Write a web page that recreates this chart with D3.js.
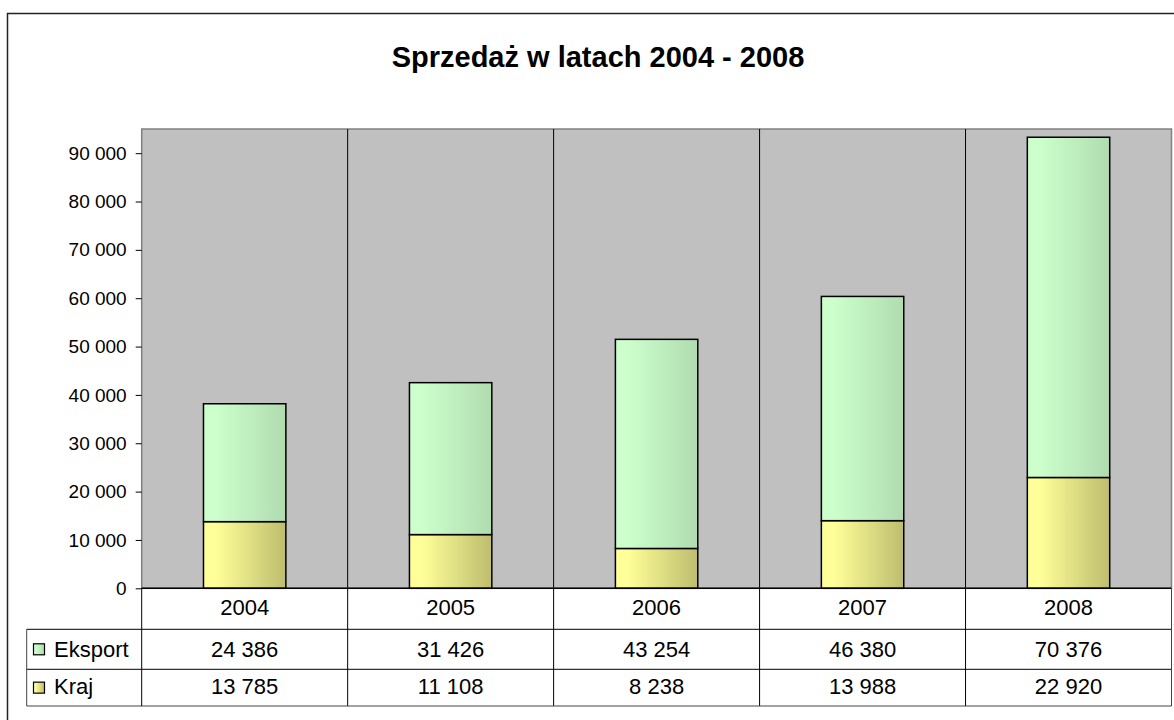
<!DOCTYPE html>
<html>
<head>
<meta charset="utf-8">
<title>Sprzedaż w latach 2004 - 2008</title>
<script src="https://d3js.org/d3.v7.min.js"></script>
<style>
	body{
		margin: 0;
		background: #fff;
		font-family: Arial, "Liberation Sans", sans-serif;
	}
	svg{
		display: block;
	}
</style>
</head>
<body>
<script>
var years = ['2004', '2005', '2006', '2007', '2008']
var eksport = [24386, 31426, 43254, 46380, 70376]
var kraj = [13785, 11108, 8238, 13988, 22920]
var yTicks = [0, 10000, 20000, 30000, 40000, 50000, 60000, 70000, 80000, 90000]
var seriesNames = ['Eksport', 'Kraj']

var width = 1174
var height = 720
var plot = {left: 141.7, right: 1171.5, top: 129, bottom: 588.3}
var rowBottoms = [629.3, 669.3, 706]
var tableLeft = 26.7

const svg = d3.select('body').append('svg')
			  .attr('width', width)
			  .attr('height', height)

// gradients like the old excel fill
const defs = svg.append('defs')
const grads = [
	{id: 'gEksport', from: '#ccffcc', to: '#b0dcb0'},
	{id: 'gKraj', from: '#ffff99', to: '#bdbd6e'}
]
grads.forEach(function(g){
	const lg = defs.append('linearGradient').attr('id', g.id)
				   .attr('x1', '0%').attr('x2', '100%').attr('y1', '0%').attr('y2', '0%')
	lg.append('stop').attr('offset', '0%').attr('stop-color', g.from)
	lg.append('stop').attr('offset', '15%').attr('stop-color', g.from)
	lg.append('stop').attr('offset', '100%').attr('stop-color', g.to)
})
var fills = ['url(#gEksport)', 'url(#gKraj)']

// outer chart border (runs off the right/bottom of the picture)
svg.append('path')
   .attr('d', 'M7.5,' + (height + 5) + 'V13.5H' + (width + 5))
   .attr('fill', 'none')
   .attr('stroke', '#222')
   .attr('stroke-width', 1.5)

svg.append('text')
   .attr('x', 598)
   .attr('y', 67)
   .attr('text-anchor', 'middle')
   .style('font-size', '29px')
   .style('font-weight', 'bold')
   .text('Sprzedaż w latach 2004 - 2008')

const xScale = d3.scaleBand().domain(years)
				 .range([plot.left, plot.right])
				 .paddingInner(0.6)
				 .paddingOuter(0.3)
const yScale = d3.scaleLinear().domain([0, 95000])
				 .range([plot.bottom, plot.top])
const step = xScale.step()

svg.append('rect')
   .attr('x', plot.left)
   .attr('y', plot.top)
   .attr('width', plot.right - plot.left)
   .attr('height', plot.bottom - plot.top)
   .attr('fill', '#c0c0c0')
   .attr('stroke', '#808080')
   .attr('stroke-width', 1.5)

// stacked data
const rows = years.map(function(y, i){ return {year: y, Eksport: eksport[i], Kraj: kraj[i]} })
const stack = d3.stack().keys(['Kraj', 'Eksport'])(rows)

// category divider lines go through plot and table
svg.append('g').selectAll('line').data(years.slice(1)).enter()
   .append('line')
   .attr('x1', d => xScale(d) - step * 0.3)
   .attr('x2', d => xScale(d) - step * 0.3)
   .attr('y1', plot.top)
   .attr('y2', rowBottoms[2])
   .attr('stroke', '#000')
   .attr('stroke-width', 1)

stack.forEach(function(layer){
	const fill = layer.key === 'Eksport' ? fills[0] : fills[1]
	svg.append('g').selectAll('rect').data(layer).enter()
	   .append('rect')
	   .attr('x', d => xScale(d.data.year))
	   .attr('y', d => yScale(d[1]))
	   .attr('width', xScale.bandwidth())
	   .attr('height', d => yScale(d[0]) - yScale(d[1]))
	   .attr('fill', fill)
	   .attr('stroke', '#000')
	   .attr('stroke-width', 1.5)
})

const fmt = d => d3.format(',')(d).replace(/,/g, ' ')

const yAxis = d3.axisLeft(yScale).tickValues(yTicks).tickFormat(fmt)
				.tickSize(6).tickPadding(9)
const gy = svg.append('g')
			  .attr('transform', 'translate(' + plot.left + ',0)')
			  .call(yAxis)
gy.select('.domain').remove()
gy.selectAll('text').style('font-size', '19px').style('font-family', 'Arial, "Liberation Sans", sans-serif').attr('fill', '#000')
gy.selectAll('line').attr('stroke', '#000')

// data table
const table = svg.append('g')
table.append('line')
	 .attr('x1', plot.left).attr('x2', plot.right)
	 .attr('y1', plot.bottom).attr('y2', plot.bottom)
	 .attr('stroke', '#000').attr('stroke-width', 1.5)
table.append('line')
	 .attr('x1', tableLeft).attr('x2', plot.right)
	 .attr('y1', rowBottoms[0]).attr('y2', rowBottoms[0])
	 .attr('stroke', '#000')
table.append('line')
	 .attr('x1', tableLeft).attr('x2', plot.right)
	 .attr('y1', rowBottoms[1]).attr('y2', rowBottoms[1])
	 .attr('stroke', '#000')
table.append('path')
	 .attr('d', 'M' + tableLeft + ',' + rowBottoms[0] + 'V' + rowBottoms[2] + 'H' + plot.right + 'V' + plot.bottom)
	 .attr('fill', 'none')
	 .attr('stroke', '#444')
table.append('line')
	 .attr('x1', plot.left).attr('x2', plot.left)
	 .attr('y1', plot.bottom).attr('y2', rowBottoms[2])
	 .attr('stroke', '#000')

table.selectAll('.cat').data(years).enter()
	 .append('text')
	 .attr('class', 'cat')
	 .attr('x', d => xScale(d) + xScale.bandwidth() / 2)
	 .attr('y', 615)
	 .attr('text-anchor', 'middle')
	 .style('font-size', '22px')
	 .text(d => d)

var rowBase = [656.7, 694]
var rowTop = [rowBottoms[0], rowBottoms[1]]
var values = [eksport, kraj]
seriesNames.forEach(function(name, i){
	table.append('rect')
		 .attr('x', 33.5)
		 .attr('y', (rowTop[i] + rowBottoms[i + 1]) / 2 - 5.5)
		 .attr('width', 11)
		 .attr('height', 11)
		 .attr('fill', fills[i])
		 .attr('stroke', '#000')
		 .attr('stroke-width', 1.2)
	table.append('text')
		 .attr('x', 54)
		 .attr('y', rowBase[i])
		 .style('font-size', '22px')
		 .text(name)
	table.selectAll('.v' + i).data(values[i]).enter()
		 .append('text')
		 .attr('class', 'v' + i)
		 .attr('x', (d, j) => xScale(years[j]) + xScale.bandwidth() / 2)
		 .attr('y', rowBase[i])
		 .attr('text-anchor', 'middle')
		 .style('font-size', '22px')
		 .text(d => fmt(d))
})
</script>
</body>
</html>
